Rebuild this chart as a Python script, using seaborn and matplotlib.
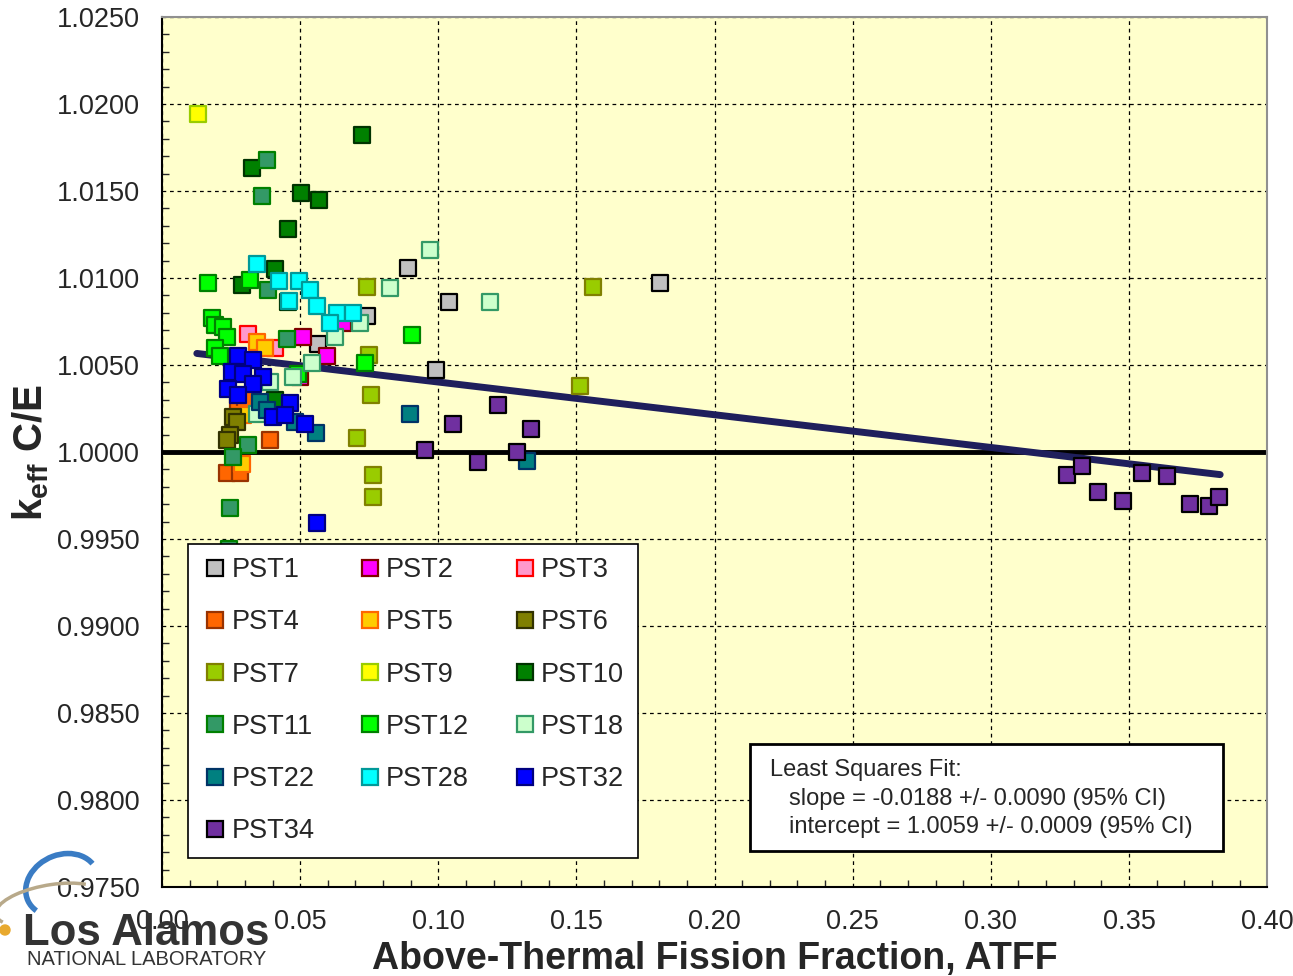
import numpy as np
import pandas as pd
import seaborn as sns
import matplotlib.pyplot as plt
from matplotlib.patches import Rectangle, Arc, Circle
from matplotlib.lines import Line2D
from matplotlib.transforms import IdentityTransform
from matplotlib.ticker import MultipleLocator, FormatStrFormatter

# Data (ATFF, keff C/E)
pst1_x = [0.089, 0.1039, 0.1803, 0.0992, 0.0742, 0.0565]
pst1_y = [1.0106, 1.0086, 1.0097, 1.0047, 1.0078, 1.0062]
pst2_x = [0.051, 0.0597, 0.0655, 0.050]
pst2_y = [1.0066, 1.0055, 1.0074, 1.0043]
pst3_x = [0.0311, 0.041]
pst3_y = [1.0068, 1.0060]
pst4_x = [0.0391, 0.0235, 0.0282, 0.0275, 0.030]
pst4_y = [1.0007, 0.9988, 0.9988, 1.0026, 1.0030]
pst5_x = [0.0344, 0.0373, 0.029, 0.0293]
pst5_y = [1.0063, 1.0060, 0.9993, 1.0021]
pst6_x = [0.0257, 0.0271, 0.0246, 0.0235]
pst6_y = [1.0020, 1.0017, 1.0010, 1.0007]
pst7_x = [0.0742, 0.0749, 0.0757, 0.0706, 0.0764, 0.0764, 0.1513, 0.156]
pst7_y = [1.0095, 1.0056, 1.0033, 1.0008, 0.9987, 0.9974, 1.0038, 1.0095]
pst9_x = [0.013]
pst9_y = [1.0194]
pst10_x = [0.0724, 0.0326, 0.0503, 0.0568, 0.0456, 0.0290, 0.0409, 0.0456, 0.0409]
pst10_y = [1.0182, 1.0163, 1.0149, 1.0145, 1.0128, 1.0096, 1.0105, 1.0086, 1.0030]
pst11_x = [0.038, 0.0362, 0.0384, 0.0452, 0.0311, 0.0257, 0.0246, 0.0243]
pst11_y = [1.0168, 1.0147, 1.0093, 1.0065, 1.0004, 0.9997, 0.9968, 0.99445]
pst12_x = [0.0167, 0.0319, 0.0181, 0.0192, 0.0221, 0.0235, 0.0192, 0.021, 0.0735, 0.0905, 0.0492]
pst12_y = [1.0097, 1.0099, 1.0077, 1.0073, 1.0072, 1.0066, 1.0060, 1.0055, 1.0051, 1.0067, 1.0045]
pst18_x = [0.097, 0.0825, 0.1187, 0.0717, 0.0626, 0.0543, 0.0474, 0.0391, 0.0344]
pst18_y = [1.0116, 1.0094, 1.0086, 1.0074, 1.0066, 1.0051, 1.0043, 1.0040, 1.0022]
pst22_x = [0.0898, 0.1321, 0.0557, 0.0355, 0.0481, 0.038]
pst22_y = [1.0022, 0.9995, 1.0011, 1.0029, 1.0017, 1.0024]
pst28_x = [0.0344, 0.0424, 0.0496, 0.0536, 0.046, 0.0561, 0.0634, 0.0691, 0.0608]
pst28_y = [1.0108, 1.0098, 1.0098, 1.0093, 1.0087, 1.0084, 1.0080, 1.0080, 1.0074]
pst32_x = [0.0275, 0.033, 0.0253, 0.0293, 0.0366, 0.033, 0.0239, 0.0275, 0.0463, 0.0402, 0.0445, 0.0518, 0.0561]
pst32_y = [1.0055, 1.0053, 1.0046, 1.0045, 1.0043, 1.0039, 1.0036, 1.0033, 1.0028, 1.0020, 1.0021, 1.0016, 0.9959]
pst34_x = [0.1053, 0.0952, 0.1144, 0.1216, 0.1336, 0.1285, 0.3276, 0.333, 0.3389,
           0.3479, 0.3547, 0.3638, 0.3721, 0.379, 0.3826]
pst34_y = [1.0016, 1.0001, 0.9994, 1.0027, 1.0013, 1.0000, 0.9987, 0.9992, 0.9977,
           0.9972, 0.9988, 0.9986, 0.9970, 0.9969, 0.9974]

names = ["PST1", "PST2", "PST3", "PST4", "PST5", "PST6", "PST7", "PST9",
         "PST10", "PST11", "PST12", "PST18", "PST22", "PST28", "PST32", "PST34"]
xs = [pst1_x, pst2_x, pst3_x, pst4_x, pst5_x, pst6_x, pst7_x, pst9_x,
      pst10_x, pst11_x, pst12_x, pst18_x, pst22_x, pst28_x, pst32_x, pst34_x]
ys = [pst1_y, pst2_y, pst3_y, pst4_y, pst5_y, pst6_y, pst7_y, pst9_y,
      pst10_y, pst11_y, pst12_y, pst18_y, pst22_y, pst28_y, pst32_y, pst34_y]
faces = ["#C0C0C0", "#FF00FF", "#FF99CC", "#FF6600", "#FFCC00", "#808000", "#99CC00", "#FFFF00",
         "#008000", "#339966", "#00FF00", "#CCFFCC", "#008080", "#00FFFF", "#0000FF", "#7030A0"]
edges = ["#000000", "#800000", "#FF0000", "#993300", "#FF6600", "#333300", "#808000", "#99CC00",
         "#003300", "#008000", "#008000", "#339966", "#003366", "#009999", "#000080", "#000000"]

# least squares fit
slope = -0.0188
intercept = 1.0059
fit_x = [0.0126, 0.383]

rows = []
for n, x, y in zip(names, xs, ys):
    for a, b in zip(x, y):
        rows.append({"series": n, "ATFF": a, "CE": b})
df = pd.DataFrame(rows)

sns.set_style("white")
plt.rcParams["font.family"] = ["Liberation Sans", "DejaVu Sans"]
plt.rcParams["mathtext.fontset"] = "custom"
plt.rcParams["mathtext.rm"] = "Liberation Sans:bold"
plt.rcParams["mathtext.bf"] = "Liberation Sans:bold"
plt.rcParams["mathtext.it"] = "Liberation Sans:bold"

fig = plt.figure(figsize=(12.93, 9.76), dpi=100)
ax = fig.add_axes([0.1253, 0.0912, 0.8547, 0.8914])
ax.set_facecolor("#FFFFCC")

for i, n in enumerate(names):
    sub = df[df["series"] == n]
    sns.scatterplot(data=sub, x="ATFF", y="CE", ax=ax, marker="s", s=125,
                    color=faces[i], edgecolor=edges[i], linewidth=1.6,
                    zorder=3 + i * 0.01, legend=False)

ax.axhline(1.0, color="black", lw=3.5, zorder=2)
fit_y = [intercept + slope * v for v in fit_x]
sns.lineplot(x=fit_x, y=fit_y, ax=ax, color="#1F1F5C", lw=5, zorder=2.5)

ax.set_xlim(0, 0.40)
ax.set_ylim(0.975, 1.025)
ax.xaxis.set_major_locator(MultipleLocator(0.05))
ax.xaxis.set_minor_locator(MultipleLocator(0.01))
ax.yaxis.set_major_locator(MultipleLocator(0.005))
ax.yaxis.set_minor_locator(MultipleLocator(0.001))
ax.xaxis.set_major_formatter(FormatStrFormatter("%.2f"))
ax.yaxis.set_major_formatter(FormatStrFormatter("%.4f"))
ax.grid(True, which="major", color="black", ls=(0, (3, 3)), lw=0.9, zorder=1)
ax.set_axisbelow(True)
ax.tick_params(which="major", direction="inout", length=8, width=1.2, labelsize=19.5,
               top=False, right=False)
ax.tick_params(axis="y", which="major", pad=12)
ax.tick_params(axis="x", which="major", pad=12)
ax.tick_params(which="minor", direction="in", length=5, width=1.0, top=False, right=False)
ax.tick_params(axis="y", which="minor", left=True)
ax.tick_params(axis="x", which="minor", bottom=True)
for side in ["left", "bottom"]:
    ax.spines[side].set_color("black")
    ax.spines[side].set_linewidth(1.5)
for side in ["top", "right"]:
    ax.spines[side].set_color("#909090")
    ax.spines[side].set_linewidth(1.5)

ax.set_xlabel("Above-Thermal Fission Fraction, ATFF", fontsize=27, fontweight="bold", labelpad=4)
ax.set_ylabel(r"k$_{\mathrm{eff}}$ C/E", fontsize=29, fontweight="bold", labelpad=4)

handles = [Line2D([], [], ls="none", marker="s", markersize=11.5, markerfacecolor=faces[i],
                  markeredgecolor=edges[i], markeredgewidth=1.6) for i in range(len(names))]
# order handles row by row (3 columns)
order = []
ncol = 3
nrow = int(np.ceil(len(names) / ncol))
for c in range(ncol):
    for r in range(nrow):
        k = r * ncol + c
        if k < len(names):
            order.append(k)
leg = ax.legend([handles[k] for k in order], [names[k] for k in order], ncol=3,
                loc="lower left", bbox_to_anchor=(0.0235, 0.0333), fontsize=19.5,
                frameon=True, fancybox=False, edgecolor="black", framealpha=1,
                handlelength=1.0, handletextpad=0.1, columnspacing=1.55,
                labelspacing=0.97, borderpad=0.5, borderaxespad=0)
leg.get_frame().set_linewidth(1.2)
leg.set_zorder(10)

ax.add_patch(Rectangle((0.532, 0.0414), 0.428, 0.123, transform=ax.transAxes,
                       facecolor="white", edgecolor="black", lw=2, zorder=10))
ax.text(0.550, 0.135, "Least Squares Fit:", transform=ax.transAxes, fontsize=17,
        va="center", ha="left", zorder=11)
ax.text(0.567, 0.101, "slope = %.4f +/- 0.0090 (95%% CI)" % slope, transform=ax.transAxes,
        fontsize=17, va="center", ha="left", zorder=11)
ax.text(0.567, 0.069, "intercept = %.4f +/- 0.0009 (95%% CI)" % intercept, transform=ax.transAxes,
        fontsize=17, va="center", ha="left", zorder=11)

# logo (pixel coordinates, origin bottom-left)
H = 976
fig.add_artist(Arc((62, H - 885), 75, 60, angle=25, theta1=10, theta2=200,
                   color="#3A7CC4", lw=4, transform=IdentityTransform(), zorder=19))
fig.add_artist(Arc((50, H - 905), 110, 40, angle=10, theta1=20, theta2=190,
                   color="#B8A98A", lw=2.5, transform=IdentityTransform(), zorder=19))
fig.add_artist(Circle((5, H - 930), 5, color="#E8A92E", transform=IdentityTransform(), zorder=19))
fig.text(0.018, 0.032, "Los Alamos", fontsize=31.5, fontweight="bold", color="#333333",
         ha="left", va="baseline", zorder=20)
fig.text(0.021, 0.011, "NATIONAL LABORATORY", fontsize=14.5, color="#333333",
         ha="left", va="baseline", zorder=20)

fig.savefig("out.png", dpi=100)
